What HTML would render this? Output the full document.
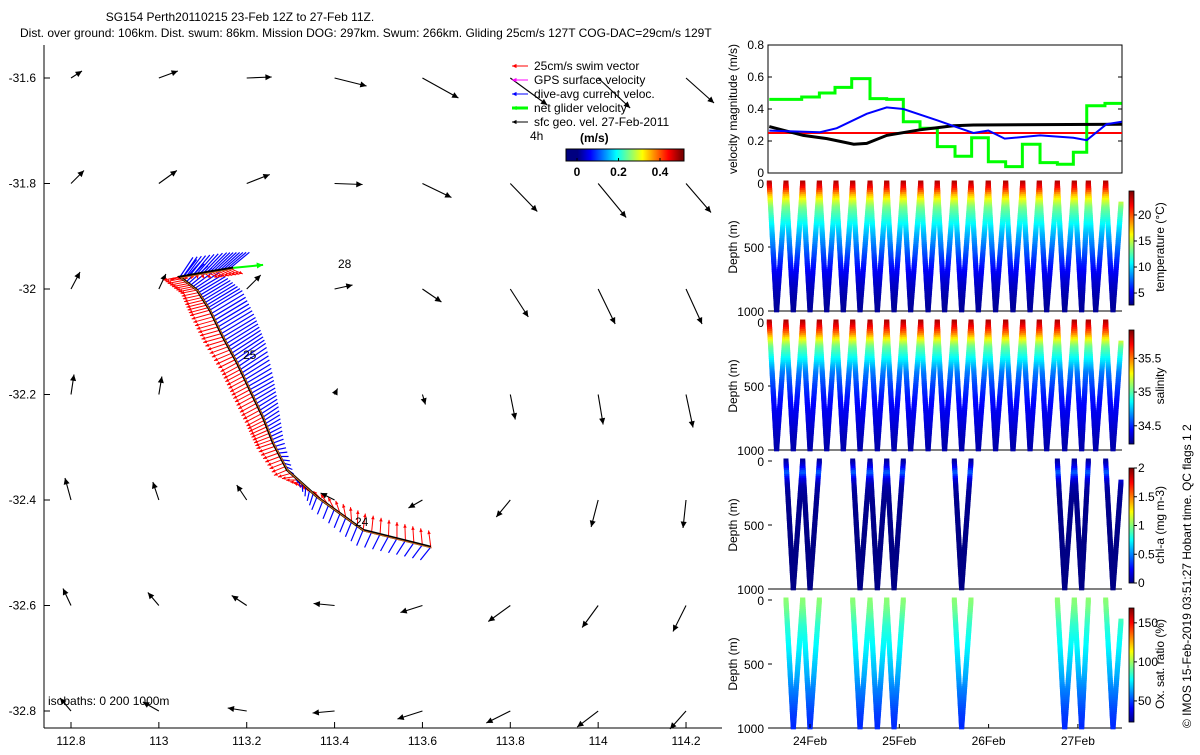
<!DOCTYPE html>
<html><head><meta charset="utf-8"><style>
body{margin:0;background:#fff}
svg{font-family:"Liberation Sans",sans-serif;font-size:12px}
</style></head><body>
<svg id="s" width="1200" height="750" xmlns="http://www.w3.org/2000/svg">
<text x="240" y="21" text-anchor="middle">SG154 Perth20110215 23-Feb 12Z to 27-Feb 11Z.</text>
<text x="20" y="37">Dist. over ground: 106km. Dist. swum: 86km. Mission DOG: 297km. Swum: 266km. Gliding 25cm/s 127T COG-DAC=29cm/s 129T</text>
<g id="map"></g>
<g id="vel"></g>
<g id="prof"></g>
<text transform="translate(1191,728) rotate(-90)">© IMOS 15-Feb-2019 03:51:27 Hobart time. QC flags 1  2</text>
</svg>
<script>
// ---------- data ----------
const lonTicks=[112.8,113,113.2,113.4,113.6,113.8,114,114.2];
const latTicks=[-31.6,-31.8,-32,-32.2,-32.4,-32.6,-32.8];
const geoU=[[0.11,0.19,0.25,0.32,0.36,0.37,0.32,0.28],[0.13,0.18,0.23,0.28,0.29,0.27,0.28,0.25],[0.09,0.07,0.14,0.18,0.19,0.18,0.17,0.16],[0.03,0.03,0,0.03,0.03,0.05,0.05,0.07],[-0.06,-0.06,-0.10,-0.14,-0.14,-0.14,-0.07,-0.03],[-0.08,-0.11,-0.15,-0.21,-0.22,-0.22,-0.16,-0.13],[-0.11,-0.16,-0.19,-0.22,-0.25,-0.24,-0.21,-0.16]];
const geoV=[[0.07,0.07,0.01,-0.08,-0.20,-0.27,-0.30,-0.25],[0.13,0.13,0.09,-0.01,-0.14,-0.28,-0.34,-0.29],[0.17,0.15,0.14,0.04,-0.13,-0.28,-0.35,-0.35],[0.20,0.18,0,0.06,-0.10,-0.25,-0.30,-0.33],[0.22,0.18,0.15,0.07,-0.08,-0.17,-0.27,-0.28],[0.17,0.13,0.10,0.02,-0.07,-0.16,-0.22,-0.26],[0.13,0.09,0.03,-0.02,-0.08,-0.12,-0.16,-0.18]];
const trackLon=[113.619,113.465,113.360,113.292,113.260,113.237,113.207,113.178,113.146,113.116,113.087,113.048,113.110,113.169];
const trackLat=[-32.489,-32.457,-32.394,-32.343,-32.292,-32.243,-32.191,-32.140,-32.091,-32.040,-32.002,-31.977,-31.968,-31.960];
const dacU=[-0.08,-0.05,-0.04,0.05,0.08,0.12,0.18,0.22,0.25,0.25,0.20,0.10,0.15,0.15];
const dacV=[-0.10,-0.12,-0.10,-0.03,0.03,0.08,0.10,0.15,0.15,0.15,0.12,0.15,0.15,0.12];
const swimU=[-0.02,0.02,-0.10,-0.12,-0.15,-0.15,-0.15,-0.15,-0.18,-0.18,-0.15,-0.15,0.10,0.12];
const swimV=[0.15,0.15,0.08,-0.05,-0.05,-0.08,-0.08,-0.08,-0.05,-0.05,-0.03,-0.03,-0.05,-0.05];
const greenT=[-0.456,-0.093,0.105,0.280,0.467,0.672,0.859,1.045,1.232,1.426,1.624,1.810,1.997,2.191,2.378,2.576,2.770,2.949,3.099,3.303,3.490];
const greenV=[0.46,0.475,0.50,0.535,0.59,0.465,0.46,0.32,0.28,0.165,0.105,0.22,0.07,0.04,0.18,0.065,0.055,0.13,0.42,0.435];
const blueT=[-0.456,0.112,0.30,0.635,0.859,1.045,1.42,1.83,1.997,2.18,2.576,2.949,3.099,3.32,3.49];
const blueV=[0.265,0.255,0.28,0.37,0.41,0.40,0.33,0.25,0.265,0.215,0.235,0.22,0.205,0.305,0.32];
const blackT=[-0.456,-0.075,0.19,0.49,0.635,0.859,1.232,1.605,1.83,3.49];
const blackV=[0.29,0.235,0.215,0.18,0.185,0.235,0.27,0.295,0.30,0.305];
const swimSpeed=0.25;
const diveStart=[-0.456,-0.269,-0.082,0.105,0.291,0.478,0.672,0.859,1.045,1.240,1.425,1.616,1.803,1.996,2.191,2.382,2.568,2.770,2.960,3.117,3.311,3.50];
const sensorDives=[1,2,5,6,7,11,17,18,20];
const depthLevels=[0,50,100,150,200,300,400,500,600,700,800,900,1000];
const tempProf=[23.5,21.5,18,15.5,13.5,11.5,9.5,8,6.5,5.3,4.3,3.6,3.2];
const salProf=[35.85,35.7,35.5,35.25,35.05,34.85,34.65,34.55,34.47,34.42,34.38,34.33,34.3];
const chlProf=[0.05,0.2,0.45,0.2,0.08,0.03,0.02,0.02,0.01,0.01,0.01,0.01,0.01];
const oxProf=[98,96,93,89,85,80,76,71,66,60,55,50,47];
const dateLabels=["24Feb","25Feb","26Feb","27Feb"];
// ---------- helpers ----------
const NS="http://www.w3.org/2000/svg";
function el(tag,attrs,parent){const e=document.createElementNS(NS,tag);for(const k in attrs)e.setAttribute(k,attrs[k]);parent.appendChild(e);return e;}
function jet(v){v=Math.max(0,Math.min(1,v));const r=Math.max(0,Math.min(1,1.5-Math.abs(4*v-3))),g=Math.max(0,Math.min(1,1.5-Math.abs(4*v-2))),b=Math.max(0,Math.min(1,1.5-Math.abs(4*v-1)));return `rgb(${Math.round(r*255)},${Math.round(g*255)},${Math.round(b*255)})`;}
function arrow(g,x1,y1,x2,y2,col,w,hs){
  el('line',{x1,y1,x2,y2,stroke:col,'stroke-width':w},g);
  const a=Math.atan2(y2-y1,x2-x1);
  const p=[[x2,y2],[x2-hs*Math.cos(a-0.45),y2-hs*Math.sin(a-0.45)],[x2-hs*Math.cos(a+0.45),y2-hs*Math.sin(a+0.45)]];
  el('polygon',{points:p.map(q=>q.join(',')).join(' '),fill:col},g);
}
// ---------- map ----------
const map=document.getElementById('map');
const mx=lon=>71+(lon-112.8)*439.3, my=lat=>78+(-31.6-lat)*527.5;
const VS=100;
el('line',{x1:44,y1:45,x2:44,y2:728,stroke:'#000'},map);
el('line',{x1:44,y1:728,x2:722,y2:728,stroke:'#000'},map);
lonTicks.forEach(lo=>{
  const x=mx(lo);
  el('line',{x1:x,y1:728,x2:x,y2:722,stroke:'#000'},map);
  const t=el('text',{x:x,y:745,'text-anchor':'middle'},map);t.textContent=lo;
  
  
});
latTicks.forEach(la=>{
  const y=my(la);
  el('line',{x1:44,y1:y,x2:50,y2:y,stroke:'#000'},map);
  const t=el('text',{x:36,y:y+4,'text-anchor':'end'},map);t.textContent=la;
  
  
});
latTicks.forEach((la,i)=>lonTicks.forEach((lo,j)=>{
  const x=mx(lo),y=my(la),u=geoU[i][j],v=geoV[i][j];
  if(Math.abs(u)+Math.abs(v)<0.01)return;
  const g=el('g',{},map);
  
  
  arrow(g,x,y,x+u*VS,y-v*VS,'#000',1.1,7);
}));
const tg=el('g',{},map);


for(let i=0;i<trackLon.length-1;i++){
  for(let k=0;k<8;k++){
    const f=k/8;
    const x=mx(trackLon[i]+(trackLon[i+1]-trackLon[i])*f),y=my(trackLat[i]+(trackLat[i+1]-trackLat[i])*f);
    const du=dacU[i]+(dacU[i+1]-dacU[i])*f,dv=dacV[i]+(dacV[i+1]-dacV[i])*f;
    el('line',{x1:x,y1:y,x2:x+du*VS*1.3,y2:y-dv*VS*1.3,stroke:'#00f','stroke-width':1.2},tg);
    const su=swimU[i]+(swimU[i+1]-swimU[i])*f,sv=swimV[i]+(swimV[i+1]-swimV[i])*f;
    arrow(tg,x,y,x+su*VS*1.1,y-sv*VS*1.1,'#f00',1,4);
  }
}
const tp=trackLon.map((lo,i)=>mx(lo)+','+my(trackLat[i])).join(' ');
el('polyline',{points:tp,fill:'none',stroke:'#000','stroke-width':2.5},map);
el('polyline',{points:tp,fill:'none',stroke:'#d2691e','stroke-width':1,transform:'translate(1,1)'},map);
const last=trackLon.length-1;
const ng=el('g',{},map);
arrow(ng,mx(trackLon[last]),my(trackLat[last]),mx(trackLon[last])+30,my(trackLat[last])-3,'#0f0',2,7);
[['28',338,268],['25',243,359],['24',355,526]].forEach(([s,x,y])=>{const t=el('text',{x,y},map);t.textContent=s;});
const iso=el('text',{x:48,y:705},map);iso.textContent='isobaths: 0    200  1000m';
const lg=el('g',{},map);
const legItems=[['25cm/s swim vector','#f00',1],['GPS surface velocity','#f0f',1],['dive-avg current veloc.','#00f',1],['net glider velocity','#0f0',3],['sfc geo. vel. 27-Feb-2011','#000',1]];
legItems.forEach(([s,c,w],i)=>{const y=66+i*14;arrow(lg,528,y,512,y,c,w,5);const t=el('text',{x:534,y:y+4},lg);t.textContent=s;});
const t4=el('text',{x:530,y:140},lg);t4.textContent='4h';
const tu=el('text',{x:580,y:142,'font-weight':'bold'},lg);tu.textContent='(m/s)';
const cbx=v=>577+v*207.5;
for(let x=566;x<684;x++){el('rect',{x:x,y:149,width:1.2,height:12,fill:jet((-0.053+(x-566)/118*0.568)/0.5)},lg);}
el('rect',{x:566,y:149,width:118,height:12,fill:'none',stroke:'#000'},lg);
[0,0.2,0.4].forEach(v=>{const t=el('text',{x:cbx(v),y:176,'text-anchor':'middle','font-weight':'bold'},lg);t.textContent=v;el('line',{x1:cbx(v),y1:161,x2:cbx(v),y2:158,stroke:'#000'},lg);});
// ---------- velocity panel ----------
const vel=document.getElementById('vel');
const L=768,R=1122;
const tx=t=>810+t*89.3, vy=v=>173-v*160;
el('rect',{x:L,y:45,width:R-L,height:128,fill:'none',stroke:'#000'},vel);
[0,0.2,0.4,0.6,0.8].forEach(v=>{const y=vy(v);el('line',{x1:L,y1:y,x2:L+4,y2:y,stroke:'#000'},vel);el('line',{x1:R,y1:y,x2:R-4,y2:y,stroke:'#000'},vel);const t=el('text',{x:L-4,y:y+4,'text-anchor':'end'},vel);t.textContent=v;});
const vl=el('text',{transform:`translate(737,109) rotate(-90)`,'text-anchor':'middle'},vel);vl.textContent='velocity magnitude (m/s)';
el('line',{x1:L,y1:vy(swimSpeed),x2:R,y2:vy(swimSpeed),stroke:'#f00','stroke-width':2},vel);
let gp=[];greenV.forEach((v,i)=>{gp.push(tx(greenT[i])+','+vy(v));gp.push(tx(greenT[i+1])+','+vy(v));});
el('polyline',{points:gp.join(' '),fill:'none',stroke:'#0f0','stroke-width':3},vel);
el('polyline',{points:blackT.map((t,i)=>tx(t)+','+vy(blackV[i])).join(' '),fill:'none',stroke:'#000','stroke-width':3},vel);
el('polyline',{points:blueT.map((t,i)=>tx(t)+','+vy(blueV[i])).join(' '),fill:'none',stroke:'#00f','stroke-width':2},vel);
// ---------- profile panels ----------
const prof=document.getElementById('prof');
function interp(d,arr){for(let i=0;i<depthLevels.length-1;i++){if(d<=depthLevels[i+1]){const f=(d-depthLevels[i])/(depthLevels[i+1]-depthLevels[i]);return arr[i]+(arr[i+1]-arr[i])*f;}}return arr[arr.length-1];}
const panels=[
 {top:183,arr:tempProf,min:2.7,max:24.6,ticks:[5,10,15,20],label:'temperature (°C)',dives:null,name:'temperature'},
 {top:322,arr:salProf,min:34.23,max:35.92,ticks:[34.5,35,35.5],label:'salinity',dives:null,name:'salinity'},
 {top:461,arr:chlProf,min:0,max:2,ticks:[0,0.5,1,1.5,2],label:'chl-a (mg m-3)',dives:sensorDives,name:'chlorophyll'},
 {top:600,arr:oxProf,min:23,max:169,ticks:[50,100,150],label:'Ox. sat. ratio (%)',dives:sensorDives,name:'oxygen'}];
panels.forEach((p,pi)=>{
  const g=el('g',{},prof);
  
  
  const dyf=d=>p.top+d*0.128;
  el('line',{x1:L,y1:p.top+128,x2:R,y2:p.top+128,stroke:'#000'},g);
  [0,500,1000].forEach(d=>{const t=el('text',{x:L-4,y:dyf(d)+5,'text-anchor':'end'},g);t.textContent=d;el('line',{x1:L,y1:dyf(d),x2:L+4,y2:dyf(d),stroke:'#000'},g);});
  const yl=el('text',{transform:`translate(737,${p.top+64}) rotate(-90)`,'text-anchor':'middle'},g);yl.textContent='Depth (m)';
  
  const cg=el('g',{},g);
  const list=p.dives||diveStart.slice(0,-1).map((_,i)=>i);
  list.forEach(i=>{
    const t0=diveStart[i],t2=diveStart[i+1],tb=t0+0.082;
    for(let d=0;d<=1000;d+=15){
      const v=interp(d,p.arr),c=jet((v-p.min)/(p.max-p.min));
      [t0+(tb-t0)*d/1000,t2-(t2-tb)*d/1000].forEach(t=>{
        const x=tx(t);if(x>R-1)return;
        el('rect',{x:x-2.5,y:dyf(d)-2.5,width:5,height:5,fill:c},cg);
      });
    }
  });
  const ctop=p.top+8+(pi==2?-1:0),cbot=p.top+122;
  const cb=el('g',{},g);
  for(let y=ctop;y<cbot;y++)el('rect',{x:1129,y:y,width:5,height:1.2,fill:jet(1-(y-ctop)/(cbot-ctop))},cb);
  el('rect',{x:1129,y:ctop,width:5,height:cbot-ctop,fill:'none',stroke:'#000','stroke-width':0.8},cb);
  p.ticks.forEach(v=>{const y=cbot-(v-p.min)/(p.max-p.min)*(cbot-ctop);el('line',{x1:1134,y1:y,x2:1137,y2:y,stroke:'#000'},cb);const t=el('text',{x:1138,y:y+4},cb);t.textContent=v;});
  const cl=el('text',{transform:`translate(1164,${p.top+64}) rotate(-90)`,'text-anchor':'middle'},g);cl.textContent=p.label;
  
});
dateLabels.forEach((s,i)=>{const x=tx(i);el('line',{x1:x,y1:728,x2:x,y2:724,stroke:'#000'},prof);const t=el('text',{x:x,y:745,'text-anchor':'middle'},prof);t.textContent=s;});
</script>
</body></html>
